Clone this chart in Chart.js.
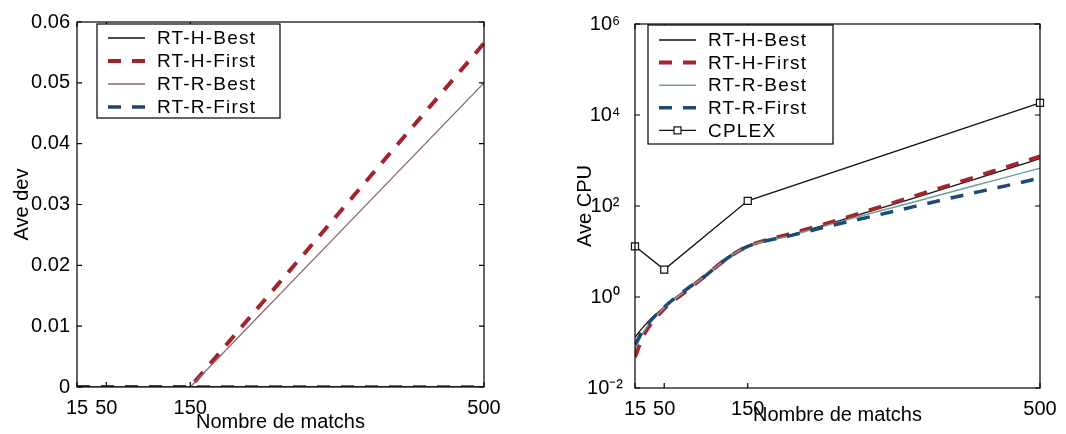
<!DOCTYPE html>
<html>
<head>
<meta charset="utf-8">
<script src="https://cdn.jsdelivr.net/npm/chart.js@4.4.1/dist/chart.umd.min.js"></script>
<style>
    html, body { margin: 0; padding: 0; background: #fff; }
    #wrap { position: relative; width: 1066px; height: 434px; }
    canvas { position: absolute; top: 0; }
    #devChart { left: 0; }
    #cpuChart { left: 533px; }
</style>
</head>
<body>
<div id="wrap">
    <canvas id="devChart" width="533" height="434"></canvas>
    <canvas id="cpuChart" width="533" height="434"></canvas>
</div>
<script>
// --- Data ---
const xTicks = [15, 50, 150, 500];

// Left panel: average deviation
const devX = [15, 50, 150, 500];
const devHBest = [0, 0, 0, 0];
const devHFirst = [0, 0, 0, 0.0565];
const devRBest = [0, 0, 0, 0.05];
const devRFirst = [0, 0, 0, 0];
const devYTicks = [0, 0.01, 0.02, 0.03, 0.04, 0.05, 0.06];

// Right panel: average CPU (log scale)
const cpuX = [15, 25, 50, 75, 100, 125, 150, 200, 250, 300, 350, 400, 450, 500];
const cpuHBest = [0.13, 0.22, 0.6, 1.35, 3.0, 7, 13, 23, 42, 80, 150, 290, 560, 1100];
const cpuHFirst = [0.048, 0.14, 0.55, 1.3, 3.0, 7, 13, 24, 44, 85, 165, 320, 630, 1230];
const cpuRBest = [0.07, 0.17, 0.58, 1.35, 3.0, 7, 13, 22, 40, 71, 124, 220, 385, 680];
const cpuRFirst = [0.09, 0.19, 0.6, 1.4, 3.0, 7, 13, 22, 37, 60, 98, 160, 255, 410];
const cplexX = [15, 50, 150, 500];
const cplexCpu = [13, 4, 130, 18500];
const cpuYTicks = [1e-2, 1, 1e2, 1e4, 1e6];
const cpuYLabels = ['10⁻²', '10⁰', '10²', '10⁴', '10⁶'];

const FONT = '"Liberation Sans", Arial, sans-serif';
const pts = (xs, ys) => xs.map((x, i) => ({ x: x, y: ys[i] }));

// Matlab-like box with inward ticks on all four sides
const axisBox = {
    id: 'axisBox',
    afterDraw(chart) {
        const { ctx, chartArea: a, scales } = chart;
        ctx.save();
        ctx.strokeStyle = '#000';
        ctx.lineWidth = 1.2;
        ctx.strokeRect(a.left, a.top, a.right - a.left, a.bottom - a.top);
        const t = 5;
        ctx.beginPath();
        scales.x.ticks.forEach(tk => {
            const px = scales.x.getPixelForValue(tk.value);
            ctx.moveTo(px, a.bottom); ctx.lineTo(px, a.bottom - t);
            ctx.moveTo(px, a.top); ctx.lineTo(px, a.top + t);
        });
        scales.y.ticks.forEach(tk => {
            const py = scales.y.getPixelForValue(tk.value);
            ctx.moveTo(a.left, py); ctx.lineTo(a.left + t, py);
            ctx.moveTo(a.right, py); ctx.lineTo(a.right - t, py);
        });
        ctx.stroke();
        ctx.restore();
    }
};

// Boxed legend inside the plot area, drawn from the dataset styles
const boxLegend = {
    id: 'boxLegend',
    afterDraw(chart, args, opts) {
        const { ctx, chartArea: a } = chart;
        const items = chart.data.datasets;
        const x0 = a.left + opts.dx, y0 = a.top + opts.dy;
        const h = items.length * opts.rowH + opts.extra;
        ctx.save();
        ctx.fillStyle = '#fff';
        ctx.fillRect(x0, y0, opts.w, h);
        ctx.strokeStyle = '#000';
        ctx.lineWidth = 1.2;
        ctx.strokeRect(x0, y0, opts.w, h);
        ctx.font = '19px ' + FONT;
        ctx.textBaseline = 'middle';
        if ('letterSpacing' in ctx) ctx.letterSpacing = '1.2px';
        items.forEach((ds, i) => {
            const cy = y0 + opts.firstY + i * opts.rowH;
            ctx.setLineDash(ds.borderDash || []);
            ctx.lineWidth = ds.borderWidth;
            ctx.strokeStyle = ds.borderColor;
            ctx.beginPath();
            ctx.moveTo(x0 + 11, cy);
            ctx.lineTo(x0 + 48, cy);
            ctx.stroke();
            ctx.setLineDash([]);
            if (ds.pointRadius > 0) {
                const s = 3.5;
                ctx.fillStyle = '#fff';
                ctx.fillRect(x0 + 29.5 - s, cy - s, 2 * s, 2 * s);
                ctx.lineWidth = 1.2;
                ctx.strokeRect(x0 + 29.5 - s, cy - s, 2 * s, 2 * s);
            }
            ctx.fillStyle = '#000';
            ctx.fillText(ds.label, x0 + 60, cy + 1);
        });
        ctx.restore();
    }
};

function lineSet(label, data, color, width, dash, order, smooth) {
    return {
        label: label,
        data: data,
        borderColor: color,
        backgroundColor: color,
        borderWidth: width,
        borderDash: dash,
        borderCapStyle: 'butt',
        pointRadius: 0,
        fill: false,
        order: order,
        tension: 0,
        cubicInterpolationMode: smooth ? 'monotone' : 'default'
    };
}

function xScale(height, titlePad) {
    return {
        type: 'linear',
        min: 15,
        max: 500,
        afterBuildTicks: (s) => { s.ticks = xTicks.map(v => ({ value: v })); },
        afterFit: (s) => { s.height = height; },
        ticks: { font: { family: FONT, size: 20 }, color: '#000', padding: 9, autoSkip: false, maxRotation: 0 },
        grid: { display: false, drawTicks: false },
        border: { display: false },
        title: { display: true, text: 'Nombre de matchs', color: '#000', font: { family: FONT, size: 20 }, padding: { top: 0, bottom: titlePad } }
    };
}

// --- Left chart: Ave dev ---
new Chart(document.getElementById('devChart'), {
    type: 'line',
    data: {
        datasets: [
            lineSet('RT-H-Best', pts(devX, devHBest), '#111', 1.3, [], 3, false),
            lineSet('RT-H-First', pts(devX, devHFirst), '#a3222c', 4, [13, 11], 2, false),
            lineSet('RT-R-Best', pts(devX, devRBest), '#8c6670', 1.3, [], 1, false),
            lineSet('RT-R-First', pts(devX, devRFirst), '#1f4468', 3.5, [13, 11], 0, false)
        ]
    },
    options: {
        responsive: false,
        animation: false,
        devicePixelRatio: 1,
        layout: { padding: { left: 0, right: 49, top: 22, bottom: 0 } },
        plugins: {
            legend: { display: false },
            tooltip: { enabled: false },
            boxLegend: { dx: 20, dy: 2, w: 183, rowH: 23, extra: 2, firstY: 14 }
        },
        scales: {
            x: xScale(47, 0),
            y: {
                type: 'linear',
                min: 0,
                max: 0.06,
                afterBuildTicks: (s) => { s.ticks = devYTicks.map(v => ({ value: v })); },
                afterFit: (s) => { s.width = 77; },
                ticks: {
                    font: { family: FONT, size: 20 }, color: '#000', padding: 7,
                    callback: (v) => String(+Number(v).toFixed(2))
                },
                grid: { display: false, drawTicks: false },
                border: { display: false },
                title: { display: true, text: 'Ave dev', color: '#000', font: { family: FONT, size: 20 }, padding: { top: 10, bottom: 0 } }
            }
        }
    },
    plugins: [axisBox, boxLegend]
});

// --- Right chart: Ave CPU ---
const cplexSet = lineSet('CPLEX', pts(cplexX, cplexCpu), '#111', 1.3, [], 4, false);
cplexSet.pointRadius = 5;
cplexSet.pointStyle = 'rect';
cplexSet.pointBackgroundColor = '#fff';
cplexSet.pointBorderColor = '#111';
cplexSet.pointBorderWidth = 1.2;
cplexSet.clip = 10;

new Chart(document.getElementById('cpuChart'), {
    type: 'line',
    data: {
        datasets: [
            lineSet('RT-H-Best', pts(cpuX, cpuHBest), '#111', 1.3, [], 3, true),
            lineSet('RT-H-First', pts(cpuX, cpuHFirst), '#a3262e', 4, [13, 11], 2, true),
            lineSet('RT-R-Best', pts(cpuX, cpuRBest), '#6f9e9e', 1.5, [], 1, true),
            lineSet('RT-R-First', pts(cpuX, cpuRFirst), '#1f4a73', 3.5, [13, 11], 0, true),
            cplexSet
        ]
    },
    options: {
        responsive: false,
        animation: false,
        devicePixelRatio: 1,
        layout: { padding: { left: 0, right: 26, top: 22, bottom: 0 } },
        plugins: {
            legend: { display: false },
            tooltip: { enabled: false },
            boxLegend: { dx: 13, dy: 1, w: 185, rowH: 22.6, extra: 6, firstY: 15 }
        },
        scales: {
            x: xScale(46, 7),
            y: {
                type: 'logarithmic',
                min: 1e-2,
                max: 1e6,
                afterBuildTicks: (s) => { s.ticks = cpuYTicks.map(v => ({ value: v })); },
                afterFit: (s) => { s.width = 102; },
                ticks: {
                    font: { family: FONT, size: 20 }, color: '#000', padding: 12, crossAlign: 'center',
                    callback: (v) => cpuYLabels[cpuYTicks.indexOf(v)]
                },
                grid: { display: false, drawTicks: false },
                border: { display: false },
                title: { display: true, text: 'Ave CPU', color: '#000', font: { family: FONT, size: 20 }, padding: { top: 40, bottom: 0 } }
            }
        }
    },
    plugins: [axisBox, boxLegend]
});
</script>
</body>
</html>
